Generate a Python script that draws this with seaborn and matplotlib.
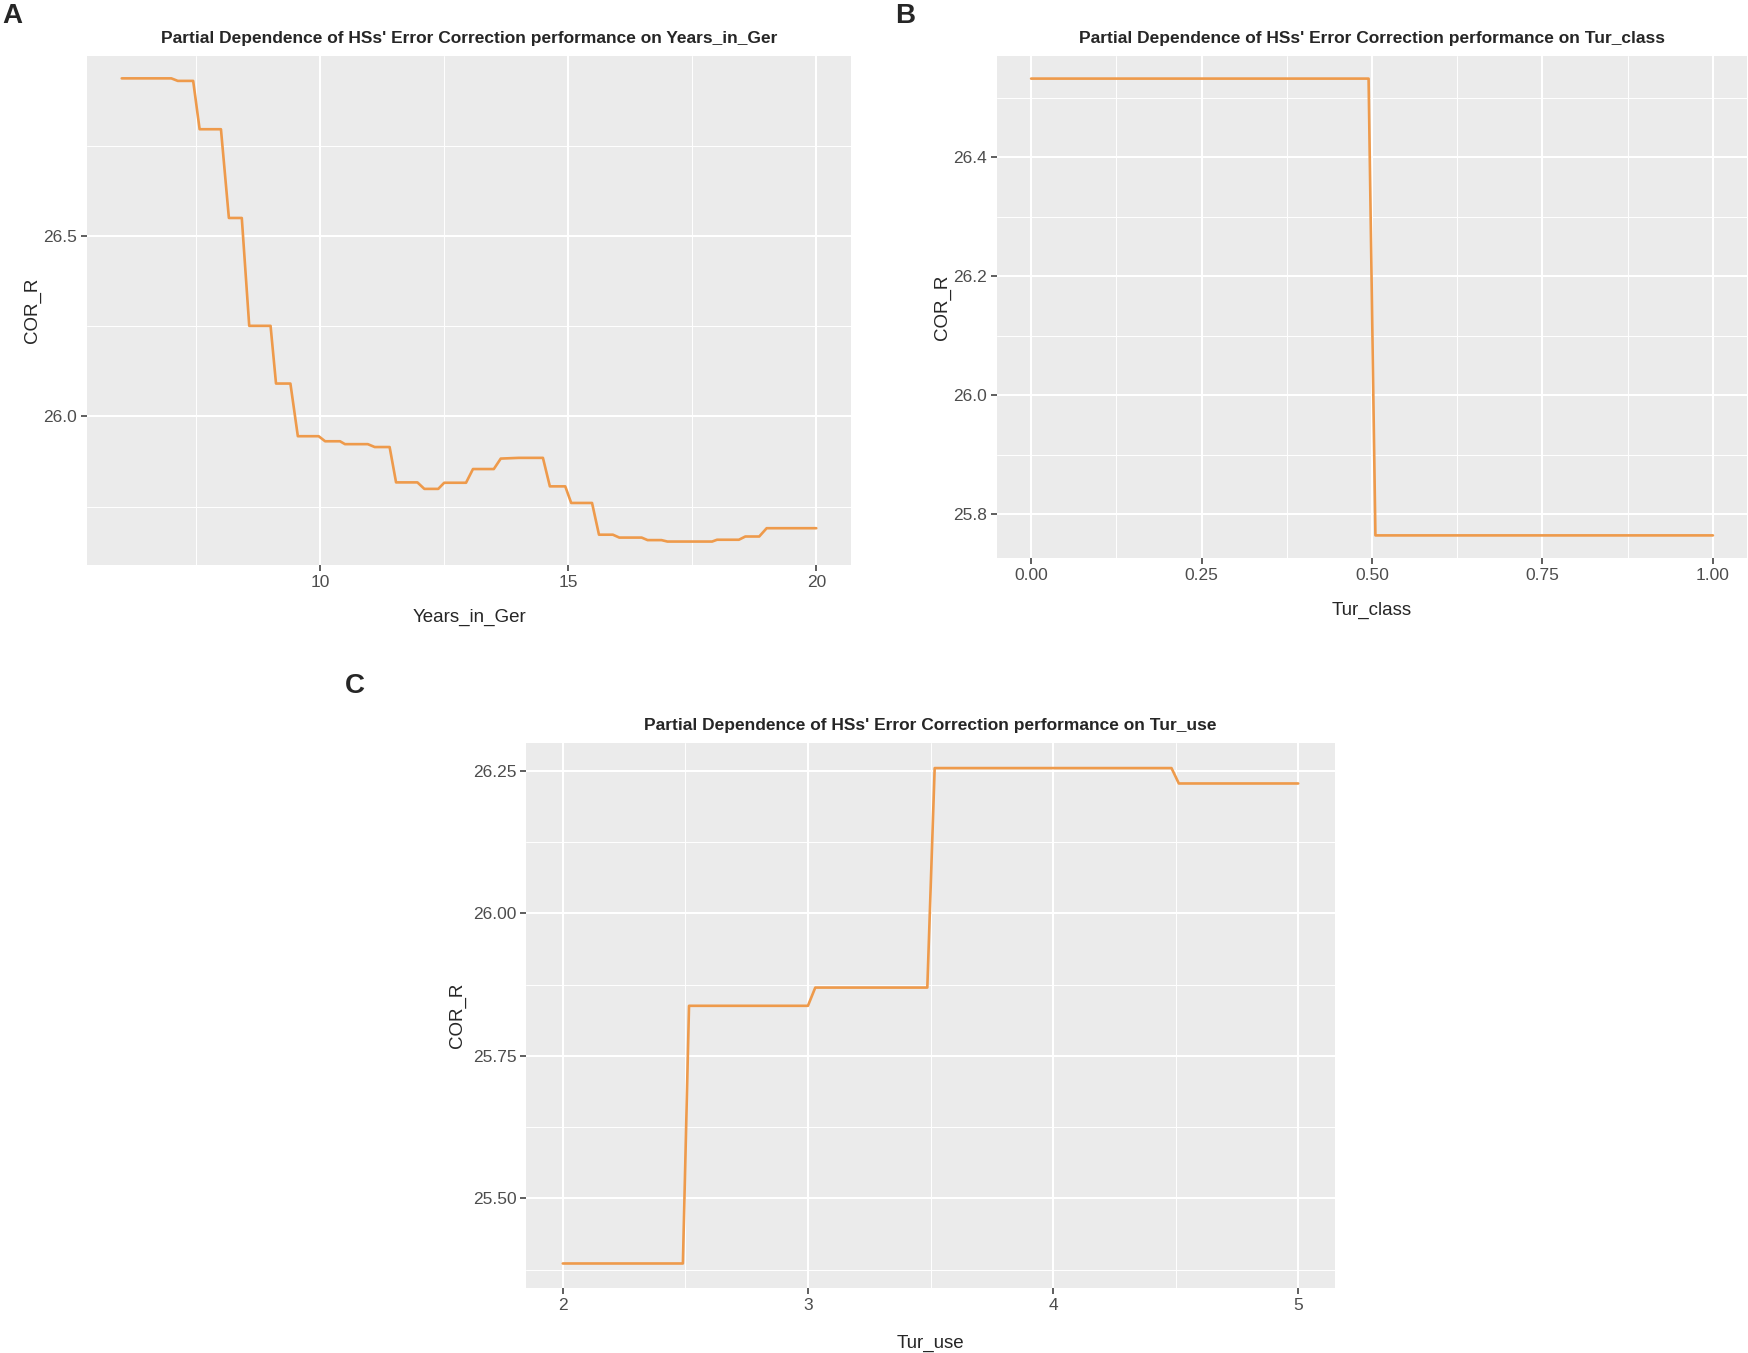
import matplotlib
matplotlib.use('Agg')
import matplotlib.pyplot as plt
import seaborn as sns
import pandas as pd
from matplotlib.ticker import FixedLocator

# partial dependence curves (grid vertices)
years_x = [6.0, 7.0, 7.13, 7.44, 7.57, 8.0, 8.16, 8.42, 8.57, 9.0, 9.11, 9.4, 9.55, 9.97,
           10.1, 10.4, 10.5, 10.96, 11.1, 11.4, 11.53, 11.96, 12.1, 12.38, 12.5, 12.94,
           13.08, 13.5, 13.64, 14.0, 14.49, 14.63, 14.94, 15.06, 15.48, 15.62, 15.9, 16.03,
           16.48, 16.6, 16.88, 17.0, 17.9, 18.0, 18.44, 18.57, 18.85, 19.0, 20.0]
years_y = [26.937, 26.937, 26.930, 26.930, 26.796, 26.796, 26.550, 26.550, 26.251, 26.251,
           26.091, 26.091, 25.945, 25.945, 25.931, 25.931, 25.923, 25.923, 25.915, 25.915,
           25.817, 25.817, 25.799, 25.799, 25.816, 25.816, 25.854, 25.854, 25.883, 25.885,
           25.885, 25.806, 25.806, 25.760, 25.760, 25.672, 25.672, 25.664, 25.664, 25.657,
           25.657, 25.653, 25.653, 25.658, 25.658, 25.667, 25.667, 25.690, 25.690]

class_x = [0.0, 0.495, 0.505, 1.0]
class_y = [26.532, 26.532, 25.764, 25.764]

use_x = [2.0, 2.49, 2.515, 3.0, 3.03, 3.487, 3.517, 4.483, 4.513, 5.0]
use_y = [25.386, 25.386, 25.838, 25.838, 25.870, 25.870, 26.255, 26.255, 26.228, 26.228]

TITLE = "Partial Dependence of HSs' Error Correction performance on "
LINE_COLOR = '#EE9A4B'

sns.set_theme(style='darkgrid')
plt.rcParams['font.family'] = ['Liberation Sans', 'DejaVu Sans']

fig = plt.figure(figsize=(17.48, 13.53), dpi=100)
W, H = 1748, 1353


def make_ax(left, right, top, bottom):
    return fig.add_axes([left / W, 1 - bottom / H, (right - left) / W, (bottom - top) / H])


def style_ax(ax, xmaj, xmin, ymaj, ymin, xlim, ylim, xfmt, yfmt):
    ax.set_facecolor('#EBEBEB')
    ax.set_xlim(*xlim)
    ax.set_ylim(*ylim)
    ax.xaxis.set_major_locator(FixedLocator(xmaj))
    ax.yaxis.set_major_locator(FixedLocator(ymaj))
    ax.xaxis.set_minor_locator(FixedLocator(xmin))
    ax.yaxis.set_minor_locator(FixedLocator(ymin))
    ax.set_xticklabels([xfmt.format(v) for v in xmaj])
    ax.set_yticklabels([yfmt.format(v) for v in ymaj])
    ax.grid(which='major', color='white', lw=1.5)
    ax.grid(which='minor', color='white', lw=0.7)
    for s in ax.spines.values():
        s.set_visible(False)
    ax.tick_params(which='major', length=4, width=1.1, color='#333333',
                   labelsize=12.5, labelcolor='#4D4D4D', pad=3, left=True, bottom=True)
    ax.tick_params(which='minor', length=0)
    ax.set_axisbelow(True)


def panel(ax, xs, ys, name, letter, lx, ly, xpad, ypad):
    df = pd.DataFrame({name: xs, 'COR_R': ys})
    sns.lineplot(data=df, x=name, y='COR_R', ax=ax, color=LINE_COLOR, lw=1.9, sort=False)
    ax.set_title(TITLE + name, fontsize=12.5, fontweight='bold', pad=9)
    ax.set_xlabel(name, fontsize=13.5, labelpad=xpad)
    ax.set_ylabel('COR_R', fontsize=13.5, labelpad=ypad)
    fig.text(lx / W, 1 - ly / H, letter, fontsize=20, fontweight='bold', ha='left', va='center')


# A
axA = make_ax(87, 851, 56, 565)
style_ax(axA, [10, 15, 20], [7.5, 12.5, 17.5], [26.0, 26.5], [25.75, 26.25, 26.75],
         (5.3, 20.7), (25.588, 26.999), '{:g}', '{:.1f}')
panel(axA, years_x, years_y, 'Years_in_Ger', 'A', 2, 16, 14, 1.5)

# B
axB = make_ax(997, 1747, 56, 558)
style_ax(axB, [0, 0.25, 0.5, 0.75, 1.0], [0.125, 0.375, 0.625, 0.875],
         [25.8, 26.0, 26.2, 26.4], [25.9, 26.1, 26.3, 26.5],
         (-0.05, 1.05), (25.726, 26.570), '{:.2f}', '{:.1f}')
panel(axB, class_x, class_y, 'Tur_class', 'B', 895, 16, 14, 1.5)

# C
axC = make_ax(526, 1335, 743, 1288)
style_ax(axC, [2, 3, 4, 5], [2.5, 3.5, 4.5], [25.5, 25.75, 26.0, 26.25],
         [25.375, 25.625, 25.875, 26.125],
         (1.85, 5.15), (25.343, 26.299), '{:g}', '{:.2f}')
panel(axC, use_x, use_y, 'Tur_use', 'C', 345, 686, 16, 4.5)

fig.savefig('out.png', dpi=100, facecolor='white')
